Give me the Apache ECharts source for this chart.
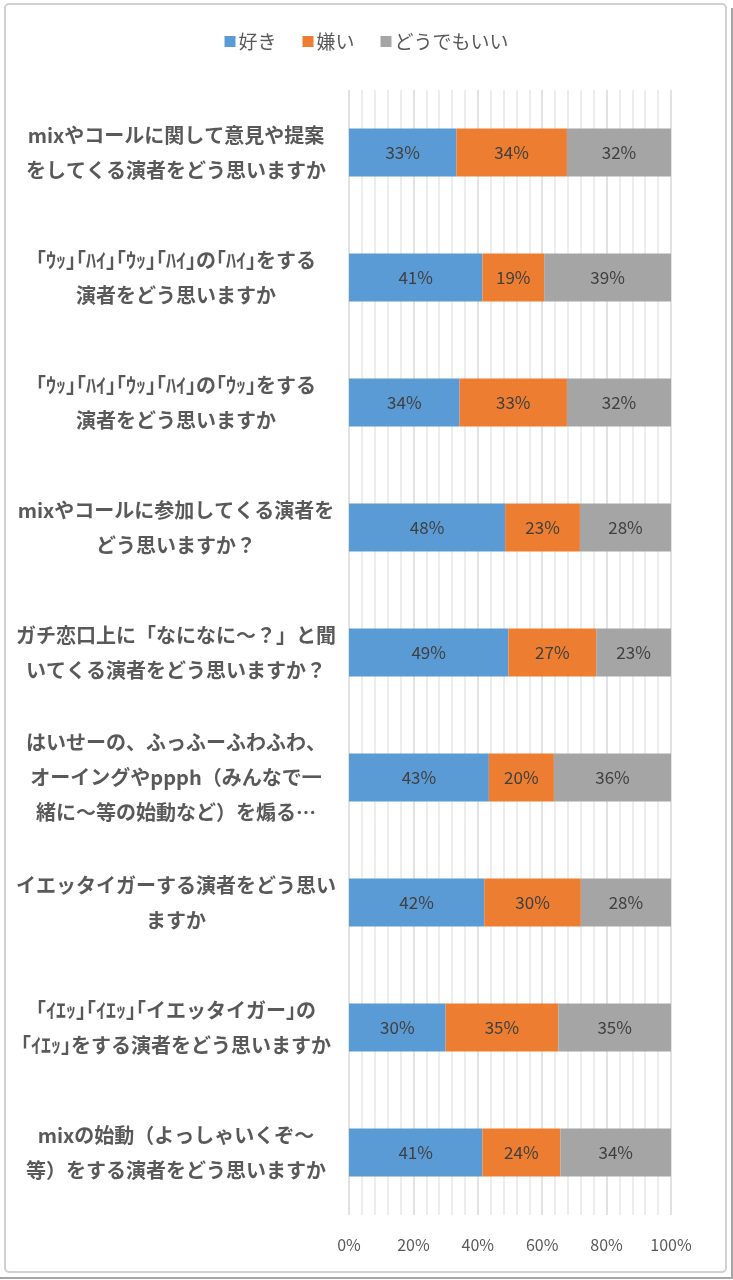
<!DOCTYPE html>
<html>
<head>
<meta charset="utf-8">
<script src="https://cdn.jsdelivr.net/npm/echarts@6/dist/echarts.min.js"></script>
<style>
html,body{margin:0;padding:0;background:#fff;}
#chart{width:733px;height:1280px;}
</style>
</head>
<body>
<div id="chart"></div>
<script>
var categories = [
  "mixやコールに関して意見や提案\nをしてくる演者をどう思いますか",
  "｢ｳｯ｣｢ﾊｲ｣｢ｳｯ｣｢ﾊｲ｣の｢ﾊｲ｣をする\n演者をどう思いますか",
  "｢ｳｯ｣｢ﾊｲ｣｢ｳｯ｣｢ﾊｲ｣の｢ｳｯ｣をする\n演者をどう思いますか",
  "mixやコールに参加してくる演者を\nどう思いますか？",
  "ガチ恋口上に「なになに～？」と聞\nいてくる演者をどう思いますか？",
  "はいせーの、ふっふーふわふわ、\nオーイングやppph（みんなで一\n緒に～等の始動など）を煽る…",
  "イエッタイガーする演者をどう思い\nますか",
  "｢ｲｴｯ｣｢ｲｴｯ｣｢イエッタイガー｣の\n｢ｲｴｯ｣をする演者をどう思いますか",
  "mixの始動（よっしゃいくぞ～\n等）をする演者をどう思いますか"
];
var seriesNames = ["好き", "嫌い", "どうでもいい"];
var likeValues    = [33, 41, 34, 48, 49, 43, 42, 30, 41];
var dislikeValues = [34, 19, 33, 23, 27, 20, 30, 35, 24];
var neutralValues = [32, 39, 32, 28, 23, 36, 28, 35, 34];
var xTickLabels = ["0%", "20%", "40%", "60%", "80%", "100%"];

var raw = [likeValues, dislikeValues, neutralValues];
var colors = ["#5B9BD5", "#ED7D31", "#A5A5A5"];
function normalized(arr) {
  return arr.map(function (v, i) {
    var s = likeValues[i] + dislikeValues[i] + neutralValues[i];
    return v / s * 100;
  });
}
var FONT = "'Noto Sans CJK JP', 'Noto Sans', sans-serif";

var chart = echarts.init(document.getElementById('chart'));
var series = raw.map(function (arr, k) {
  return {
    name: seriesNames[k],
    type: 'bar',
    stack: 'total',
    barWidth: 48,
    itemStyle: { color: colors[k] },
    label: {
      show: true,
      position: 'inside',
      fontFamily: FONT,
      fontSize: 17,
      color: '#404040',
      formatter: function (p) { return raw[k][p.dataIndex] + '%'; }
    },
    data: normalized(arr)
  };
});

chart.setOption({
  animation: false,
  backgroundColor: '#ffffff',
  legend: {
    top: 27,
    left: 'center',
    itemWidth: 11,
    itemHeight: 11,
    itemGap: 26,
    icon: 'rect',
    textStyle: { fontFamily: FONT, fontSize: 19, color: '#595959', padding: [0, 0, 0, -2] },
    data: seriesNames
  },
  grid: { left: 349, right: 62, top: 90, bottom: 65 },
  xAxis: {
    type: 'value',
    min: 0,
    max: 100,
    interval: 20,
    axisLine: { show: false },
    axisTick: { show: false },
    axisLabel: {
      margin: 22,
      fontFamily: FONT,
      fontSize: 16,
      color: '#595959',
      formatter: function (v) { return xTickLabels[Math.round(v / 20)]; }
    },
    splitLine: { show: true, lineStyle: { color: '#D9D9D9', width: 1.5 } },
    minorTick: { show: false, splitNumber: 5 },
    minorSplitLine: { show: true, lineStyle: { color: '#E8E8E8', width: 1.5 } }
  },
  yAxis: {
    type: 'category',
    inverse: true,
    data: categories,
    axisLine: { show: false },
    axisTick: { show: false },
    axisLabel: {
      margin: 173,
      align: 'center',
      fontFamily: FONT,
      fontWeight: 'bold',
      fontSize: 20,
      lineHeight: 35,
      color: '#595959'
    }
  },
  graphic: [
    {
      type: 'rect',
      shape: { x: 5, y: 4, width: 721, height: 1268, r: 4 },
      style: { fill: 'none', stroke: '#D0D0D0', lineWidth: 2 },
      silent: true, z: -1
    },
    {
      type: 'polyline',
      shape: { points: [[0, 1278], [732, 1278], [732, 8]] },
      style: { fill: 'none', stroke: '#A6A6A6', lineWidth: 2 },
      silent: true, z: -1
    }
  ],
  series: series
});
</script>
</body>
</html>
